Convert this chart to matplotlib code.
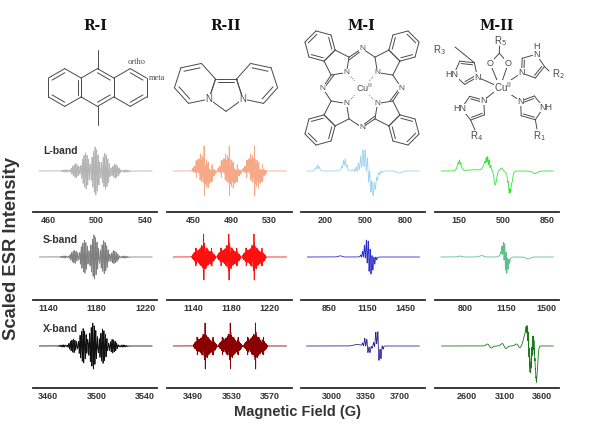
import numpy as np
import matplotlib.pyplot as plt

plt.rcParams['font.family'] = ['Liberation Sans', 'DejaVu Sans']

# ---------------- data ----------------
column_titles = ['R-I', 'R-II', 'M-I', 'M-II']
band_labels = ['L-band', 'S-band', 'X-band']

# field tick labels (G), rows L / S / X
ticks_ri = [[460, 500, 540], [1140, 1180, 1220], [3460, 3500, 3540]]
ticks_rii = [[450, 490, 530], [1140, 1180, 1220], [3490, 3530, 3570]]
ticks_mi = [[200, 500, 800], [850, 1150, 1450], [3000, 3350, 3700]]
ticks_mii = [[150, 500, 850], [800, 1150, 1500], [2600, 3100, 3600]]

# visible field window of each axis (G)
xlim_ri = [(447.3, 549.9), (1127.3, 1229.9), (3447.3, 3549.9)]
xlim_rii = [(422.3, 553.9), (1112.3, 1243.9), (3462.3, 3593.9)]
xlim_mi = [(15, 950), (629, 1608), (2685, 3956)]
xlim_mii = [(-42, 944), (535, 1606), (2169, 3823)]

# swept field range of each spectrum (G)
sweep_ri = [(452.6, 545.8), (1132.6, 1225.8), (3452.6, 3545.8)]
sweep_rii = [(429, 548), (1119, 1238), (3469, 3588)]
sweep_mi = [(60, 905), (679, 1564), (2743, 3897)]
sweep_mii = [(7, 898), (587, 1557), (2258, 3748)]

# organic radicals: isotropic hyperfine couplings (n nuclei, spin, a / G)
hfs_ri = [(6, 0.5, 7.99), (4, 0.5, 2.53), (4, 0.5, 1.17)]
hfs_rii = [(1, 1.0, 26.5), (2, 0.5, 4.6), (2, 0.5, 3.8), (2, 0.5, 2.1),
           (2, 0.5, 1.1), (2, 0.5, 0.6)]
center_ri = [499.0, 1178.0, 3497.0]
center_rii = [488.0, 1177.5, 3529.0]
width_ri = [0.3, 0.25, 0.25]
width_rii = [0.22, 0.14, 0.14]
peak_ri = [24, 22, 23]
peak_rii = [25, 23, 23]

# copper complexes: broad components ('g' absorption / 'd' derivative,
# centre G, width G, amplitude) and superhyperfine combs
# (centre G, spacing G, width G, amplitude, relative weights)
mi_bands = [
    [('g', 142, 14, 4.5), ('g', 345, 16, 9), ('d', 522, 32, 13),
     ('g', 565, 18, -5), ('g', 757, 18, -2)],
    [('g', 937, 14, 1.2), ('d', 1165, 24, 6)],
    [('g', 3260, 35, 1.5), ('d', 3365, 20, 4), ('d', 3478, 17, 9)],
]
mi_combs = [
    [(142, 14, 4, 2, [0.6, 1, 0.6]), (345, 14, 4, 3.5, [0.5, 1, 1, 0.5]),
     (520, 17, 5, 11, [0.15, 0.3, 0.5, 0.75, 0.95, 1, 1, 0.9, 0.75, 0.55,
                       0.35, 0.2, 0.1])],
    [(1163, 15, 3.5, 14, [0.1, 0.25, 0.5, 0.8, 1, 0.85, 0.55, 0.3, 0.12])],
    [(3365, 22, 5, 5, [0.4, 0.8, 1, 0.6, 0.3]),
     (3478, 22, 5, 10, [0.3, 0.7, 1, 0.6, 0.25])],
]
mii_bands = [
    [('g', 152, 15, 9), ('g', 270, 60, 1.2), ('g', 372, 22, 11),
     ('g', 437, 10, -14), ('g', 485, 10, 3), ('g', 553, 15, -20),
     ('g', 753, 20, -2.5)],
    [('g', 751, 14, 1), ('g', 938, 16, 1.5), ('d', 1140, 20, 7),
     ('g', 1339, 18, -2)],
    [('d', 2894, 25, 2), ('d', 3090, 25, 2.5), ('d', 3280, 25, 2),
     ('g', 3390, 32, 16), ('g', 3440, 16, -26), ('g', 3478, 12, 6),
     ('g', 3522, 15, -34)],
]
mii_combs = [
    [(155, 11, 3, 2, [0.6, 1, 0.6]),
     (380, 12, 3.5, 4, [0.4, 0.8, 1, 0.8, 0.4]),
     (550, 12, 3.5, 4, [0.5, 1, 0.8, 0.4])],
    [(1140, 12, 3, 12, [0.15, 0.4, 0.7, 1, 0.85, 0.5, 0.25])],
    [(3452, 7, 2.5, 12, [0.3, 0.5, 0.7, 0.8, 0.9, 1, 1, 0.9, 0.8, 0.7, 0.8,
                         0.9, 1, 1, 0.9, 0.8, 0.6, 0.4, 0.3, 0.2])],
]

colors_ri = ['#b4b4b4', '#7f7f7f', '#111111']
colors_rii = ['#f7a886', '#ff1010', '#8b0000']
colors_mi = ['#9fd3ec', '#2b2bd0', '#2a2a90']
colors_mii = ['#33e633', '#5fbf8a', '#1a7a1a']

# ---------------- spectra ----------------
def dgauss(B, c, w):
    x = (B - c) / w
    return -x * np.exp(0.5 - x ** 2 / 2)


def radical_spectrum(B, hfs, center, width):
    pos = np.array([0.0])
    inten = np.array([1.0])
    for n, spin, a in hfs:
        base = np.ones(int(2 * spin + 1))
        dist = np.array([1.0])
        for _ in range(n):
            dist = np.convolve(dist, base)
        p = a * (np.arange(len(dist)) - (len(dist) - 1) / 2)
        pos = (pos[:, None] + p[None, :]).ravel()
        inten = (inten[:, None] * dist[None, :]).ravel()
    y = np.zeros_like(B)
    for p, i in zip(pos, inten):
        y += i * dgauss(B, center + p, width)
    return y / np.abs(y).max()


def metal_spectrum(B, bands, combs):
    y = np.zeros_like(B)
    for kind, c, w, a in bands:
        if kind == 'g':
            y += a * np.exp(-((B - c) / w) ** 2 / 2)
        else:
            y += a * dgauss(B, c, w)
    for c, sp, w, a, wts in combs:
        n = len(wts)
        for k, wt in enumerate(wts):
            y += a * wt * dgauss(B, c + (k - (n - 1) / 2) * sp, w)
    return y


W, H = 592, 425
fig = plt.figure(figsize=(W / 100, H / 100), dpi=100)

col_x = [(33, 157), (167, 292), (301, 425), (435, 559)]
row_axis_y = [212, 300, 388]
row_base = [41, 43, 42]
panel_h = 84

all_ticks = [ticks_ri, ticks_rii, ticks_mi, ticks_mii]
all_xlim = [xlim_ri, xlim_rii, xlim_mi, xlim_mii]
all_sweep = [sweep_ri, sweep_rii, sweep_mi, sweep_mii]
all_colors = [colors_ri, colors_rii, colors_mi, colors_mii]

for ci in range(4):
    for ri in range(3):
        x0, x1 = col_x[ci]
        ax = fig.add_axes([x0 / W, 1 - row_axis_y[ri] / H, (x1 - x0) / W,
                           panel_h / H])
        ax.patch.set_visible(False)
        B = np.linspace(*all_sweep[ci][ri], 8000)
        if ci == 0:
            y = radical_spectrum(B, hfs_ri, center_ri[ri], width_ri[ri]) * peak_ri[ri]
        elif ci == 1:
            y = radical_spectrum(B, hfs_rii, center_rii[ri], width_rii[ri]) * peak_rii[ri]
        elif ci == 2:
            y = metal_spectrum(B, mi_bands[ri], mi_combs[ri])
        else:
            y = metal_spectrum(B, mii_bands[ri], mii_combs[ri])
        ax.plot(B, y, color=all_colors[ci][ri], lw=0.6)
        ax.set_xlim(*all_xlim[ci][ri])
        ax.set_ylim(-row_base[ri], panel_h - row_base[ri])
        for side in ['top', 'left', 'right']:
            ax.spines[side].set_visible(False)
        ax.spines['bottom'].set_linewidth(1.3)
        ax.spines['bottom'].set_color('#2a2a2a')
        ax.set_yticks([])
        tk = all_ticks[ci][ri]
        ax.set_xticks(tk, labels=[str(t) for t in tk], fontsize=6.5,
                      fontweight='bold', color='#333333')
        ax.tick_params(axis='x', length=0, pad=3)

band_y = [151, 240, 329]
for lab, yy in zip(band_labels, band_y):
    fig.text(43 / W, 1 - yy / H, lab, ha='left', va='center', fontsize=7.5,
             fontweight='bold', color='#333333')

fig.text(12 / W, 1 - 248 / H, 'Scaled ESR Intensity', rotation=90,
         ha='center', va='center', fontsize=13.2, fontweight='bold',
         color='#333333')
fig.text(297 / W, 1 - 412 / H, 'Magnetic Field (G)', ha='center',
         va='center', fontsize=10.5, fontweight='bold', color='#333333')

title_x = [95, 226, 361, 497]
for t, xx in zip(column_titles, title_x):
    fig.text(xx / W, 1 - 25.5 / H, t, ha='center', va='center', fontsize=10,
             fontweight='bold', family='DejaVu Serif', color='#111111')

# ---------------- structures (pixel space) ----------------
sax = fig.add_axes([0, 0, 1, 1], zorder=-1)
sax.set_xlim(0, W)
sax.set_ylim(H, 0)
sax.axis('off')
SC = '#4a4a4a'


def bond(p, q, **kw):
    sax.plot([p[0], q[0]], [p[1], q[1]], color=SC, lw=0.7,
             solid_capstyle='round', **kw)


def inner(p, q, c, f=0.22):
    p, q, c = np.asarray(p), np.asarray(q), np.asarray(c)
    bond(p + (c - p) * f, q + (c - q) * f)


def ring(v):
    for i in range(len(v)):
        bond(v[i], v[(i + 1) % len(v)])


def regular(c, r, start, n, sign=1):
    c = np.asarray(c, float)
    return [c + r * np.array([np.cos(np.radians(start + sign * k * 360 / n)),
                              np.sin(np.radians(start + sign * k * 360 / n))])
            for k in range(n)]


def rot(v, a):
    return np.array([v[0] * np.cos(a) - v[1] * np.sin(a),
                     v[0] * np.sin(a) + v[1] * np.cos(a)])


def hex_on_edge(p, q, away):
    p, q = np.asarray(p, float), np.asarray(q, float)
    m = (p + q) / 2
    e = q - p
    s = np.hypot(*e)
    nrm = np.array([-e[1], e[0]]) / s
    if np.dot(nrm, m - np.asarray(away)) < 0:
        nrm = -nrm
    c = m + nrm * s * np.sqrt(3) / 2
    v = p - c
    sgn = 1 if np.allclose(c + rot(v, np.pi / 3), q, atol=1e-6) else -1
    return [c + rot(v, sgn * k * np.pi / 3) for k in range(6)], c


def atom(p, txt, fs=6.5, **kw):
    sax.text(p[0], p[1], txt, ha='center', va='center', fontsize=fs,
             color=SC, zorder=3,
             bbox=dict(boxstyle='square,pad=0.05', fc='white', ec='none'),
             **kw)


# R-I: 9,10-dimethylanthracene
s1, cx0, cy0 = 18.9, 97.5, 87.5
doubles = [[(1, 2), (3, 4), (5, 0)], [(0, 1), (2, 3)], [(0, 1), (2, 3)]]
mid = None
for k, dbl in zip((-1, 0, 1), doubles):
    c = np.array([cx0 + k * np.sqrt(3) * s1, cy0])
    v = regular(c, s1, -90, 6)
    ring(v)
    for a, b in dbl:
        inner(v[a], v[b], c)
    if k == 0:
        mid = v
bond(mid[0], (mid[0][0], 50))
bond(mid[3], (mid[3][0], 125))
sax.text(128, 62, 'ortho', ha='left', va='center', fontsize=6,
         family='Liberation Serif', color=SC)
sax.text(149, 78, 'meta', ha='left', va='center', fontsize=6,
         family='Liberation Serif', color=SC)

# R-II: dipyrido-imidazole
s2 = 21.0
R5 = s2 / (2 * np.sin(np.radians(36)))
c2 = np.array([226.0, 93.5])
pent = [c2 + R5 * np.array([np.cos(np.radians(a)), -np.sin(np.radians(a))])
        for a in (-90, -18, 54, 126, 198)]
ring(pent)
inner(pent[2], pent[3], c2)
for n_i, c_i in ((1, 2), (4, 3)):
    hv, hc = hex_on_edge(pent[n_i], pent[c_i], c2)
    ring(hv)
    inner(hv[2], hv[3], hc)
    inner(hv[4], hv[5], hc)
atom(pent[1], 'N', 7)
atom(pent[4], 'N', 7)

# M-I: copper phthalocyanine
u = 15.6
cu = np.array([362.0, 88.0])
dN = 1.4
R5u = 0.8507


def P(vec):
    return cu + u * np.array([vec[0], -vec[1]])


def ang(a):
    return np.array([np.cos(np.radians(a)), np.sin(np.radians(a))])


alpha = {}
for th in (45, 135, 225, 315):
    pc = (dN + R5u) * ang(th)
    pv = [pc + R5u * ang(th + 180 + k * 72) for k in range(5)]
    pts = [P(q) for q in pv]
    ring(pts)
    hv, hc = hex_on_edge(pts[2], pts[3], P(pc))
    ring(hv)
    for a, b in ((1, 2), (3, 4), (5, 0)):
        inner(hv[a], hv[b], hc)
    sax.plot([pts[0][0], cu[0]], [pts[0][1], cu[1]], color=SC, lw=0.6,
             ls=(0, (1, 1.5)))
    atom(pts[0], 'N', 6)
    alpha[th] = (pv[1], pv[4])
for th in (45, 135, 225, 315):
    mth = th + 45
    mpos = 2.53 * ang(mth)
    nxt = (th + 90) % 360
    cands = list(alpha[th]) + list(alpha[nxt])
    cands.sort(key=lambda q: np.hypot(*(q - mpos)))
    a1, a2 = cands[0], cands[1]
    bond(P(a1), P(mpos))
    bond(P(a2), P(mpos))
    off = -0.18 * ang(mth)
    bond(P(a1 + off * 1.0), P(mpos + off * 0.6))
    atom(P(mpos), 'N', 6)
atom(cu + np.array([2, 0]), 'Cu$^{\\mathrm{II}}$', 6.5)

# M-II: copper tetra-imidazole carboxylate
cu2 = np.array([500.0, 87.3])
ri = 12.5
imid = [((466, 72), 1, 'HN', 4, (455, 47), 'R$_3$', (439, 50)),
        ((532, 66), 1, 'N', 3, (549, 71), 'R$_2$', (558, 74)),
        ((474, 108), -1, 'HN', 3, (475, 130), 'R$_4$', (477, 136)),
        ((531, 108), 1, 'NH', 3, (537, 129), 'R$_1$', (539, 136))]
for c, sgn, hlab, subv, subend, rlab, rpos in imid:
    c = np.array(c, float)
    d = cu2 - c
    a0 = np.degrees(np.arctan2(d[1], d[0]))
    v = regular(c, ri, a0, 5, sgn)
    ring(v)
    inner(v[0], v[1], c)
    inner(v[3], v[4], c)
    bond(v[0], v[0] + (cu2 - v[0]) * 0.8)
    bond(v[subv], subend)
    atom(v[0], 'N', 6.5)
    if hlab == 'N':
        atom(v[2], 'N', 6.5)
        sax.text(v[2][0], v[2][1] - 8, 'H', ha='center', va='center',
                 fontsize=6.5, color=SC)
    else:
        atom(v[2] + np.array([-2 if hlab == 'HN' else 2, 0]), hlab, 6.5)
    sax.text(rpos[0], rpos[1], rlab, ha='center', va='center', fontsize=7,
             color=SC)
o1, o2 = np.array([490.0, 63.3]), np.array([508.3, 63.3])
cc = np.array([499.3, 53.3])
bond(o1, cc)
bond(o2, cc)
bond(cc, (499.6, 46))
bond(o1, cu2)
bond(o2, cu2)
atom(o1, 'O', 6.5)
atom(o2, 'O', 6.5)
sax.text(500, 41, 'R$_5$', ha='center', va='center', fontsize=7, color=SC)
atom(cu2 + np.array([3, 0]), 'Cu$^{\\mathrm{II}}$', 7)

fig.savefig('out.png', dpi=100)
